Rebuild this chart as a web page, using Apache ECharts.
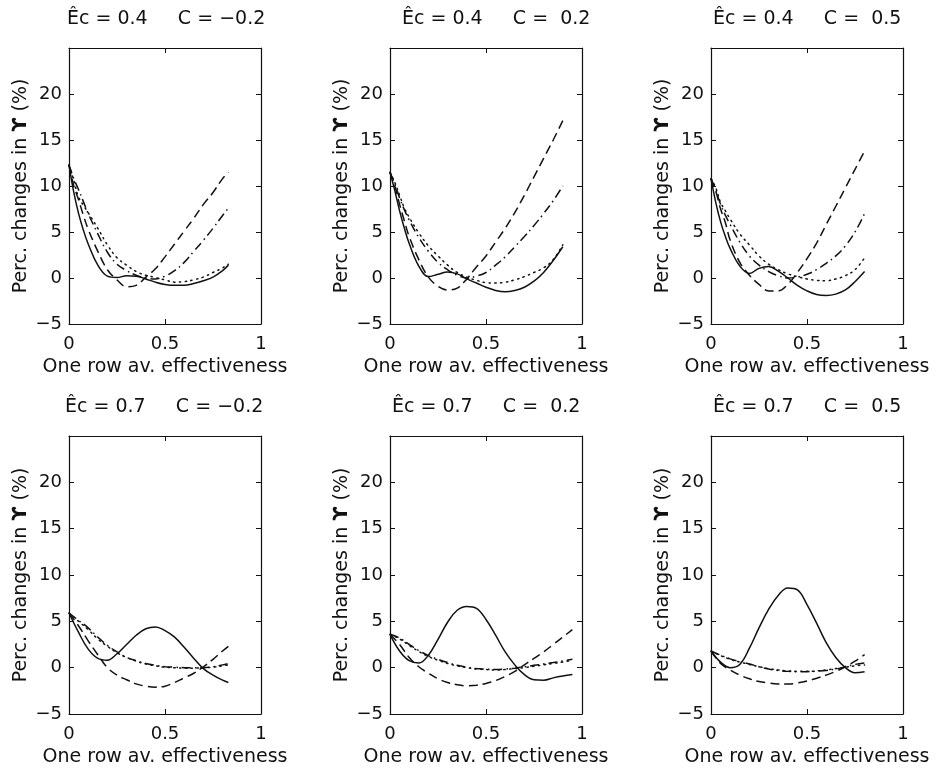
<!DOCTYPE html>
<html>
<head>
<meta charset="utf-8">
<script src="https://cdn.jsdelivr.net/npm/echarts@6/dist/echarts.min.js"></script>
<style>
  html, body { margin: 0; padding: 0; background: #fff; }
  #chart { width: 941px; height: 772px; }
</style>
</head>
<body>
<div id="chart"></div>
<script>
// Panel titles (Êc and C of each case)
const titles = [
  'Êc = 0.4     C = −0.2', 'Êc = 0.4     C =  0.2', 'Êc = 0.4     C =  0.5',
  'Êc = 0.7     C = −0.2', 'Êc = 0.7     C =  0.2', 'Êc = 0.7     C =  0.5'
];
const xTicks = [0, 0.5, 1];
const yTicks = [-5, 0, 5, 10, 15, 20];

// Êc = 0.4, C = -0.2
const xA = [0, 0.025, 0.05, 0.075, 0.1, 0.15, 0.2, 0.25, 0.3, 0.35, 0.4, 0.45, 0.5, 0.55, 0.6, 0.65, 0.7, 0.75, 0.8, 0.83];
const aSolid   = [12.3, 9.3, 7.0, 5.2, 3.7, 1.4, 0.2, 0.05, 0.25, 0.2, -0.1, -0.45, -0.7, -0.8, -0.8, -0.6, -0.3, 0.1, 0.8, 1.4];
const aDashed  = [12.3, 10.0, 8.5, 6.8, 5.3, 2.9, 0.9, -0.2, -0.95, -0.8, 0.1, 1.0, 2.3, 3.7, 5.1, 6.5, 8.0, 9.3, 10.8, 11.5];
const aDashDot = [12.3, 10.8, 9.6, 8.3, 7.0, 4.8, 2.8, 1.5, 0.8, 0.3, 0.0, -0.1, 0.2, 0.8, 1.7, 2.9, 4.1, 5.4, 6.8, 7.6];
const aDotted  = [12.3, 10.6, 8.8, 7.9, 7.1, 5.4, 3.6, 2.2, 1.4, 0.7, 0.3, 0.05, -0.2, -0.45, -0.4, -0.2, 0.1, 0.6, 1.1, 1.5];

// Êc = 0.4, C = 0.2
const xB = [0, 0.025, 0.05, 0.075, 0.1, 0.15, 0.2, 0.25, 0.3, 0.35, 0.4, 0.45, 0.5, 0.55, 0.6, 0.65, 0.7, 0.75, 0.8, 0.85, 0.9];
const bSolid   = [11.5, 9.5, 7.3, 5.4, 3.75, 1.3, 0.15, 0.4, 0.65, 0.45, -0.1, -0.55, -1.0, -1.35, -1.5, -1.35, -1.0, -0.35, 0.6, 1.9, 3.4];
const bDashed  = [11.5, 10.0, 8.0, 6.2, 4.5, 2.0, 0.1, -0.9, -1.3, -1.1, -0.1, 1.2, 2.4, 3.9, 5.4, 7.1, 9.0, 11.0, 13.0, 15.0, 17.1];
const bDashDot = [11.5, 10.2, 8.7, 7.4, 6.3, 4.4, 2.9, 1.7, 0.9, 0.3, 0.0, 0.2, 0.6, 1.4, 2.3, 3.4, 4.5, 5.7, 7.0, 8.4, 10.0];
const bDotted  = [11.5, 10.4, 9.0, 7.6, 6.6, 4.9, 3.5, 2.4, 1.4, 0.6, 0.1, -0.25, -0.5, -0.55, -0.45, -0.2, 0.15, 0.6, 1.1, 2.0, 3.6];

// Êc = 0.4, C = 0.5
const xC = [0, 0.025, 0.05, 0.075, 0.1, 0.15, 0.2, 0.25, 0.3, 0.35, 0.4, 0.45, 0.5, 0.55, 0.6, 0.65, 0.7, 0.75, 0.8];
const cSolid   = [10.8, 8.2, 6.1, 4.5, 3.2, 1.3, 0.5, 1.05, 1.25, 0.75, 0.0, -0.8, -1.4, -1.8, -1.9, -1.75, -1.3, -0.4, 0.7];
const cDashed  = [10.8, 9.4, 7.5, 6.0, 4.1, 1.7, 0.3, -0.7, -1.4, -1.4, -0.7, 0.6, 2.1, 3.8, 5.8, 7.8, 9.8, 11.8, 13.8];
const cDashDot = [10.8, 9.5, 8.0, 6.8, 5.8, 3.9, 2.4, 1.4, 0.7, 0.25, 0.0, 0.1, 0.4, 0.9, 1.6, 2.4, 3.5, 5.0, 7.0];
const cDotted  = [10.8, 9.8, 8.2, 7.3, 6.4, 4.8, 3.6, 2.4, 1.5, 0.9, 0.45, 0.15, -0.1, -0.25, -0.3, -0.1, 0.25, 0.9, 2.2];

// Êc = 0.7, C = -0.2
const xD = [0, 0.05, 0.1, 0.15, 0.2, 0.25, 0.3, 0.35, 0.4, 0.45, 0.5, 0.55, 0.6, 0.65, 0.7, 0.75, 0.8, 0.83];
const dSolid   = [5.9, 3.8, 2.0, 1.0, 0.8, 1.5, 2.5, 3.5, 4.2, 4.4, 4.0, 3.3, 2.2, 1.0, -0.1, -0.8, -1.35, -1.6];
const dDashed  = [5.9, 4.5, 2.9, 1.4, 0.0, -0.8, -1.3, -1.75, -2.0, -2.1, -2.0, -1.6, -1.1, -0.6, 0.1, 0.9, 1.8, 2.3];
const dDashDot = [5.9, 5.1, 4.3, 3.3, 2.4, 1.7, 1.1, 0.75, 0.45, 0.25, 0.1, 0.05, 0.0, 0.0, 0.0, 0.1, 0.3, 0.45];
const dDotted  = [5.9, 5.0, 4.1, 3.1, 2.3, 1.6, 1.1, 0.7, 0.4, 0.2, 0.05, 0.0, -0.05, -0.05, 0.0, 0.05, 0.2, 0.3];

// Êc = 0.7, C = 0.2
const xE = [0, 0.05, 0.1, 0.15, 0.2, 0.25, 0.3, 0.35, 0.4, 0.45, 0.5, 0.55, 0.6, 0.65, 0.7, 0.75, 0.8, 0.85, 0.9, 0.95];
const eSolid   = [3.6, 1.8, 0.75, 0.5, 1.35, 3.05, 4.9, 6.2, 6.6, 6.4, 5.2, 3.5, 1.7, 0.3, -0.75, -1.3, -1.35, -1.1, -0.9, -0.75];
const eDashed  = [3.6, 2.5, 1.1, 0.1, -0.6, -1.2, -1.6, -1.85, -1.95, -1.9, -1.7, -1.4, -0.95, -0.4, 0.3, 1.0, 1.7, 2.5, 3.3, 4.1];
const eDashDot = [3.6, 3.2, 2.5, 1.85, 1.3, 0.9, 0.55, 0.25, 0.05, -0.1, -0.15, -0.2, -0.15, -0.05, 0.1, 0.25, 0.4, 0.55, 0.72, 0.9];
const eDotted  = [3.6, 3.1, 2.4, 1.75, 1.2, 0.8, 0.45, 0.2, 0.0, -0.15, -0.2, -0.25, -0.2, -0.1, 0.0, 0.15, 0.3, 0.45, 0.6, 0.8];

// Êc = 0.7, C = 0.5
const xF = [0, 0.05, 0.1, 0.15, 0.2, 0.25, 0.3, 0.35, 0.4, 0.45, 0.5, 0.55, 0.6, 0.65, 0.7, 0.75, 0.8];
const fSolid   = [1.8, 0.6, 0.0, 0.35, 2.1, 4.3, 6.3, 7.8, 8.6, 8.4, 6.8, 4.8, 2.7, 1.1, 0.0, -0.55, -0.45];
const fDashed  = [1.8, 0.45, -0.25, -0.8, -1.2, -1.5, -1.65, -1.75, -1.77, -1.65, -1.45, -1.15, -0.8, -0.4, 0.1, 0.7, 1.4];
const fDashDot = [1.8, 1.35, 0.95, 0.65, 0.4, 0.1, -0.15, -0.3, -0.4, -0.45, -0.43, -0.38, -0.3, -0.15, 0.1, 0.35, 0.5];
const fDotted  = [1.8, 1.3, 0.9, 0.6, 0.35, 0.1, -0.1, -0.25, -0.35, -0.4, -0.4, -0.35, -0.25, -0.1, 0.05, 0.2, 0.3];

const panels = [
  { x: xA, lines: [aSolid, aDashed, aDashDot, aDotted] },
  { x: xB, lines: [bSolid, bDashed, bDashDot, bDotted] },
  { x: xC, lines: [cSolid, cDashed, cDashDot, cDotted] },
  { x: xD, lines: [dSolid, dDashed, dDashDot, dDotted] },
  { x: xE, lines: [eSolid, eDashed, eDashDot, eDotted] },
  { x: xF, lines: [fSolid, fDashed, fDashDot, fDotted] }
];

// Layout of the 2 x 3 axes boxes
const colLeft = [69, 390, 711];
const rowTop = [48, 436];
const boxW = 192;
const rowH = [276, 278];
const titleLeft = [[67, 402, 713], [65, 392, 713]];
const titleTop = [10, 398];

const FONT = 'DejaVu Sans';
const INK = '#111';
const lineTypes = ['solid', [9, 5], [9, 4, 1.5, 4], [1.3, 4.5]];

const grids = [], xAxes = [], yAxes = [], series = [], titleOpts = [];
const axisLine = { show: true, onZero: false, lineStyle: { color: INK, width: 1.2 } };
const tick = { show: true, inside: true, length: 5, lineStyle: { color: INK, width: 1 } };
const fmtMinus = v => (v > 20 ? '' : String(v).replace('-', '\u2212'));

panels.forEach((p, i) => {
  const r = Math.floor(i / 3), c = i % 3;
  grids.push({ left: colLeft[c], top: rowTop[r], width: boxW, height: rowH[r], containLabel: false });
  titleOpts.push({
    text: titles[i], left: titleLeft[r][c], top: titleTop[r], padding: 0,
    textStyle: { fontFamily: FONT, fontSize: 19, fontWeight: 'normal', color: INK }
  });
  const xi = xAxes.length;
  xAxes.push({
    type: 'value', gridIndex: i, position: 'bottom', min: xTicks[0], max: xTicks[xTicks.length - 1], interval: 0.5,
    axisLine, axisTick: tick, splitLine: { show: false },
    axisLabel: { color: INK, fontFamily: FONT, fontSize: 18, margin: 11 },
    name: 'One row av. effectiveness', nameLocation: 'middle', nameGap: 34,
    nameTextStyle: { color: INK, fontFamily: FONT, fontSize: 19 }
  });
  xAxes.push({
    type: 'value', gridIndex: i, position: 'top', min: 0, max: 1, interval: 0.5,
    axisLine, axisTick: tick, splitLine: { show: false }, axisLabel: { show: false }
  });
  const yi = yAxes.length;
  yAxes.push({
    type: 'value', gridIndex: i, position: 'left', min: yTicks[0], max: 25, interval: 5,
    axisLine, axisTick: tick, splitLine: { show: false },
    axisLabel: { color: INK, fontFamily: FONT, fontSize: 18, margin: 7, formatter: fmtMinus },
    name: 'Perc. changes in {u|\u03D2} (%)', nameLocation: 'middle', nameGap: 38, nameRotate: 90,
    nameTextStyle: {
      color: INK, fontFamily: FONT, fontSize: 19,
      rich: { u: { fontFamily: FONT, fontSize: 19, fontWeight: 'bold', color: INK } }
    }
  });
  yAxes.push({
    type: 'value', gridIndex: i, position: 'right', min: -5, max: 25, interval: 5,
    axisLine, axisTick: tick, splitLine: { show: false }, axisLabel: { show: false }
  });
  p.lines.forEach((ys, k) => {
    series.push({
      type: 'line', xAxisIndex: xi, yAxisIndex: yi, showSymbol: false, smooth: 0.4,
      silent: true, animation: false,
      lineStyle: { color: INK, width: 1.5, type: lineTypes[k], cap: k === 3 ? 'round' : 'butt' },
      data: p.x.map((xv, j) => [xv, ys[j]])
    });
  });
});

const chart = echarts.init(document.getElementById('chart'), null, { renderer: 'canvas' });
chart.setOption({
  animation: false,
  backgroundColor: '#fff',
  title: titleOpts,
  grid: grids,
  xAxis: xAxes,
  yAxis: yAxes,
  series
});
</script>
</body>
</html>
